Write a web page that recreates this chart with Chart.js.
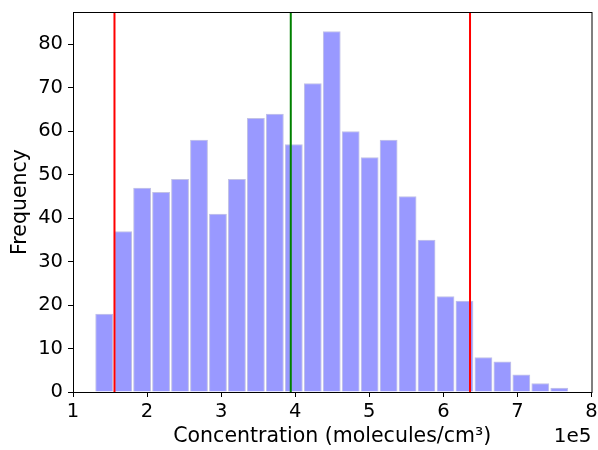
<!DOCTYPE html>
<html>
<head>
<meta charset="utf-8">
<script src="https://cdn.jsdelivr.net/npm/chart.js@4/dist/chart.umd.min.js"></script>
<style>
  html, body { margin: 0; padding: 0; background: #fff; }
  #wrap { width: 598px; height: 450px; }
</style>
</head>
<body>
<div id="wrap"><canvas class="js-chart" width="598" height="450"></canvas></div>
<script>
// bin centres in units of 1e5 molecules/cm3
const binCenters = [1.421, 1.677, 1.933, 2.189, 2.445, 2.701, 2.957, 3.213, 3.469, 3.725,
  3.981, 4.237, 4.493, 4.749, 5.005, 5.261, 5.517, 5.773, 6.029, 6.285,
  6.541, 6.797, 7.053, 7.309, 7.565];
const counts = [18, 37, 47, 46, 49, 58, 41, 49, 63, 64, 57, 71, 83, 60, 54, 58, 45, 35, 22, 21,
  8, 7, 4, 2, 1];
const lowerLine = 1.56;
const meanLine = 3.94;
const upperLine = 6.36;
const xTicks = [1, 2, 3, 4, 5, 6, 7, 8];
const yTicks = [0, 10, 20, 30, 40, 50, 60, 70, 80];
const yMax = 87.4;

const ctx = document.querySelector(".js-chart").getContext("2d");
const fontFamily = "'DejaVu Sans', sans-serif";
const tickSize = 19.5;
const labelSize = 20.5;

function vline(x, color) {
  return {
    type: "line",
    data: [{ x: x, y: 0 }, { x: x, y: yMax }],
    borderColor: color,
    borderWidth: 2,
    pointRadius: 0,
    fill: false,
    order: 1,
  };
}

const frame = {
  id: "frame",
  afterDraw(chart) {
    const a = chart.chartArea;
    const c = chart.ctx;
    c.save();
    c.strokeStyle = "#000";
    c.lineWidth = 1;
    c.strokeRect(a.left + 0.5, a.top + 0.5, a.right - a.left, a.bottom - a.top);
    c.fillStyle = "#000";
    c.font = "20px " + fontFamily;
    c.textAlign = "right";
    c.textBaseline = "alphabetic";
    c.fillText("1e5", a.right, 442);
    c.restore();
  },
};

new Chart(ctx, {
  type: "bar",
  data: {
    datasets: [
      {
        label: "counts",
        data: binCenters.map((x, i) => ({ x: x, y: counts[i] })),
        backgroundColor: "rgba(0, 0, 255, 0.4)",
        borderColor: "#c2c2e6",
        borderWidth: 1,
        borderSkipped: "bottom",
        barPercentage: 0.94,
        categoryPercentage: 1,
        order: 2,
      },
      vline(lowerLine, "#ff0000"),
      vline(upperLine, "#ff0000"),
      vline(meanLine, "#008000"),
    ],
  },
  plugins: [frame],
  options: {
    responsive: false,
    animation: false,
    layout: { padding: { top: 12, right: 6.5, left: 0, bottom: 0 } },
    plugins: { legend: { display: false }, tooltip: { enabled: false } },
    scales: {
      x: {
        type: "linear",
        offset: false,
        min: 1,
        max: 8,
        afterBuildTicks: (s) => { s.ticks = xTicks.map((v) => ({ value: v })); },
        afterFit: (s) => { s.height = 58; s.paddingLeft = 0; s.paddingRight = 0; },
        grid: { offset: false, drawOnChartArea: false, drawTicks: true, tickLength: 5, color: "#000" },
        border: { display: false },
        ticks: { color: "#000", padding: 3, maxRotation: 0, font: { family: fontFamily, size: tickSize } },
        title: {
          display: true,
          text: "Concentration (molecules/cm³)",
          color: "#000",
          font: { family: fontFamily, size: labelSize },
          padding: { top: 0, bottom: 1.5 },
        },
      },
      y: {
        min: 0,
        max: yMax,
        afterBuildTicks: (s) => { s.ticks = yTicks.map((v) => ({ value: v })); },
        afterFit: (s) => { s.width = 73; s.paddingTop = 0; s.paddingBottom = 0; },
        grid: { drawOnChartArea: false, drawTicks: true, tickLength: 5, color: "#000" },
        border: { display: false },
        ticks: { color: "#000", padding: 5, font: { family: fontFamily, size: tickSize } },
        title: {
          display: true,
          text: "Frequency",
          color: "#000",
          font: { family: fontFamily, size: labelSize },
          padding: { top: 8, bottom: 0 },
        },
      },
    },
  },
});
</script>
</body>
</html>
